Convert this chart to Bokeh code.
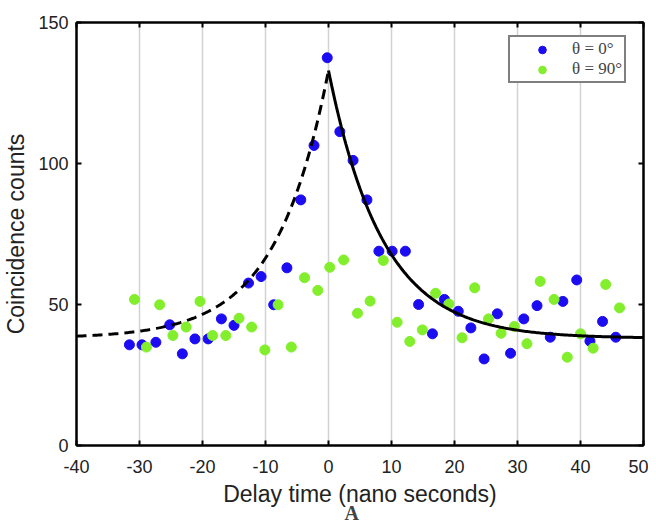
import numpy as np
from bokeh.plotting import figure
from bokeh.models import Range1d, LinearAxis, Legend, LegendItem, FixedTicker, Title
from bokeh.embed import file_html
from bokeh.resources import INLINE

# ---- data ----
x_par = [-31.6, -29.6, -27.4, -25.2, -23.2, -21.2, -19.1, -17.0, -15.0, -12.7, -10.7, -8.7, -6.6,
         -4.4, -2.3, -0.2, 1.8, 3.9, 6.1, 8.0, 10.1, 12.2, 14.3, 16.5, 18.4, 20.6, 22.6, 24.7,
         26.8, 28.9, 31.0, 33.1, 35.2, 37.2, 39.4, 41.5, 43.5, 45.6]
y_par = [35.7, 35.7, 36.6, 42.8, 32.5, 37.8, 37.8, 44.9, 42.6, 57.6, 59.9, 49.9, 63.0,
         87.1, 106.4, 137.5, 111.3, 101.1, 87.1, 68.9, 68.9, 68.9, 50.0, 39.6, 51.8, 47.6, 41.7, 30.7,
         46.7, 32.7, 44.9, 49.6, 38.4, 51.1, 58.7, 37.0, 44.0, 38.4]

x_perp = [-30.8, -28.9, -26.8, -24.7, -22.6, -20.4, -18.4, -16.3, -14.2, -12.2, -10.1, -8.0, -5.9,
          -3.8, -1.7, 0.2, 2.4, 4.6, 6.6, 8.7, 10.9, 12.9, 14.9, 17.0, 19.1, 21.2, 23.2, 25.4,
          27.4, 29.5, 31.5, 33.6, 35.8, 37.9, 40.0, 42.0, 44.0, 46.2]
y_perp = [51.8, 34.9, 49.9, 39.0, 42.0, 51.1, 39.0, 39.0, 45.1, 42.0, 33.9, 49.9, 34.9,
          59.5, 55.0, 63.2, 65.8, 46.9, 51.2, 65.6, 43.7, 36.9, 41.0, 54.0, 50.2, 38.2, 55.9, 44.9,
          39.8, 42.2, 36.1, 58.2, 51.8, 31.3, 39.6, 34.5, 57.1, 48.8]

# exponential fit parameters
fit_base = 38.0
fit_amp = 95.0
tau_left = 8.3
tau_right = 8.6

x_ticks = [-40, -30, -20, -10, 0, 10, 20, 30, 40, 50]
x_tick_labels = ["-40", "-30", "-20", "-10", "0", "10", "20", "30", "40", "50"]
y_ticks = [0, 50, 100, 150]

xl = np.linspace(-40, 0, 200)
yl = fit_base + fit_amp * np.exp(xl / tau_left)
xr = np.linspace(0, 50, 200)
yr = fit_base + fit_amp * np.exp(-xr / tau_right)

FONT = "Liberation Sans"

p = figure(width=648, height=525, output_backend="svg", toolbar_location=None,
           x_range=Range1d(-40, 50), y_range=Range1d(0, 150),
           min_border_left=76, min_border_right=5, min_border_top=22, min_border_bottom=80)
p.background_fill_color = "white"
p.border_fill_color = "white"
p.outline_line_color = "black"
p.outline_line_width = 2

p.ygrid.visible = False
p.xgrid.ticker = FixedTicker(ticks=x_ticks)
p.xgrid.grid_line_color = "#d2d2d2"
p.xgrid.grid_line_width = 1.5

for ax in [p.xaxis[0], p.yaxis[0]]:
    ax.major_tick_in = 5
    ax.major_tick_out = 0
    ax.minor_tick_in = 0
    ax.minor_tick_out = 0
    ax.axis_line_width = 2
    ax.major_tick_line_width = 2
    ax.major_label_text_font = FONT
    ax.major_label_text_font_size = "18px"
    ax.major_label_text_color = "#222222"
    ax.axis_label_text_font = FONT
    ax.axis_label_text_font_size = "23px"
    ax.axis_label_text_font_style = "normal"
    ax.axis_label_text_color = "#222222"

p.xaxis[0].ticker = FixedTicker(ticks=x_ticks)
p.xaxis[0].major_label_overrides = dict(zip(x_ticks, x_tick_labels))
p.yaxis[0].ticker = FixedTicker(ticks=y_ticks)
p.xaxis[0].axis_label = "Delay time (nano seconds)"
p.yaxis[0].axis_label = "Coincidence counts"
p.xaxis[0].major_label_standoff = 14
p.yaxis[0].major_label_standoff = 8
p.xaxis[0].axis_label_standoff = 5
p.yaxis[0].axis_label_standoff = 6

blank_x = {t: "" for t in x_ticks}
blank_y = {t: "" for t in y_ticks}
top = LinearAxis(ticker=FixedTicker(ticks=x_ticks), major_label_overrides=blank_x,
                 major_tick_in=5, major_tick_out=0, minor_tick_in=0, minor_tick_out=0,
                 axis_line_width=2, major_tick_line_width=2, major_label_standoff=0)
right = LinearAxis(ticker=FixedTicker(ticks=y_ticks), major_label_overrides=blank_y,
                   major_tick_in=5, major_tick_out=0, minor_tick_in=0, minor_tick_out=0,
                   axis_line_width=2, major_tick_line_width=2, major_label_standoff=0)
p.add_layout(top, "above")
p.add_layout(right, "right")

r_par = p.scatter(x_par, y_par, size=10, color="#1c0cf2", line_color="#1c0cf2")
r_perp = p.scatter(x_perp, y_perp, size=10, color="#82ee2c", line_color="#82ee2c")

p.line(xl, yl, line_color="black", line_width=3, line_dash="10 6")
p.line(xr, yr, line_color="black", line_width=3)

legend = Legend(items=[LegendItem(label="θ = 0°", renderers=[r_par]),
                       LegendItem(label="θ = 90°", renderers=[r_perp])],
                location=(432, 362), padding=2, spacing=0, margin=0,
                glyph_width=60, glyph_height=19, label_standoff=0,
                label_width=50, label_height=19,
                label_text_font="Liberation Serif", label_text_font_style="normal",
                label_text_font_size="17px",
                border_line_color="black", border_line_width=2,
                background_fill_alpha=1.0)
p.add_layout(legend)

p.add_layout(Title(text="A", align="left", offset=268, text_font="Liberation Serif",
                   text_font_style="bold", text_font_size="20px", standoff=-20), "below")

open("out.html", "w").write(file_html(p, INLINE))
